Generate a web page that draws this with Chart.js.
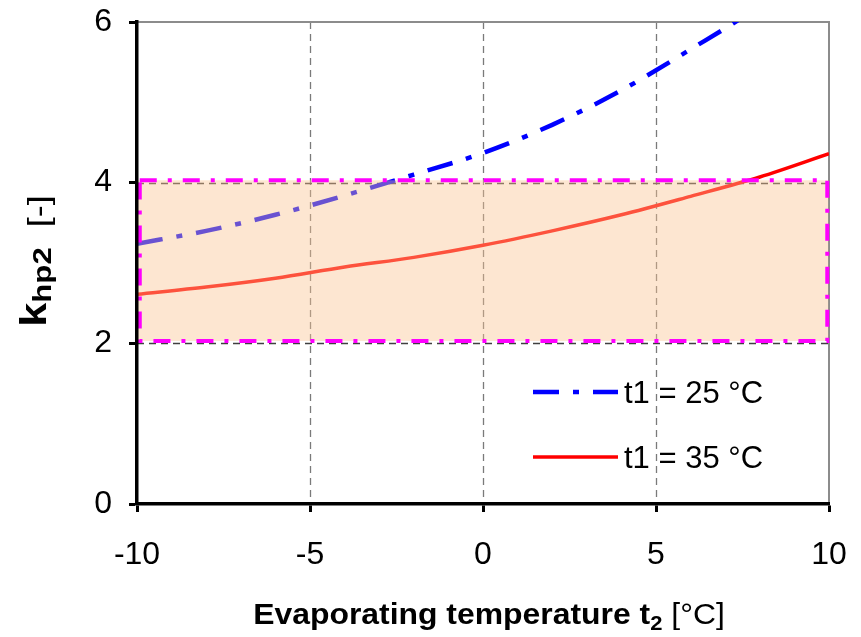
<!DOCTYPE html>
<html>
<head>
<meta charset="utf-8">
<script src="https://cdn.jsdelivr.net/npm/chart.js@4"></script>
<style>
  html, body { margin: 0; padding: 0; background: #fff; }
  #wrap { width: 861px; height: 637px; }
</style>
</head>
<body>
<div id="wrap"><canvas id="chart" width="861" height="637"></canvas></div>
<script>
// Evaporating temperature t2 [°C]
const temps = [-10, -8, -6, -4, -2, 0, 2, 4, 6, 8, 10];
// k_hp2 for t1 = 25 °C and t1 = 35 °C
const k25 = [3.24, 3.40, 3.60, 3.84, 4.10, 4.37, 4.72, 5.15, 5.66, 6.20, 6.85];
const k35 = [2.61, 2.70, 2.81, 2.95, 3.07, 3.22, 3.40, 3.60, 3.83, 4.07, 4.36];
const seriesNames = ["t1 = 25 °C", "t1 = 35 °C"];

// shaded range of k_hp2 (x from/to, y from/to)
const bandX = [-9.92, 9.95];
const bandY = [2.03, 4.03];

const xTicks = [-10, -5, 0, 5, 10];
const yTicks = [0, 2, 4, 6];

const FONT = "'Liberation Sans', Arial, sans-serif";
const blueDash = [26, 14, 6, 14];
const bandDash = [17, 11, 4, 11];

const toPoints = (ys) => temps.map((t, i) => ({ x: t, y: ys[i] }));

// draws a run of text parts (with subscripts), centred on 0, stretched by sx
function drawParts(ctx, parts, sx) {
  let total = 0;
  parts.forEach((p) => { ctx.font = p.f; p.w = ctx.measureText(p.t).width; total += p.w; });
  ctx.scale(sx, 1);
  let cx = -total / 2;
  parts.forEach((p) => {
    ctx.font = p.f;
    ctx.fillText(p.t, cx, p.dy);
    cx += p.w;
  });
}

// gridlines, frame and the shaded band
const framePlugin = {
  id: "frame",
  beforeDatasetsDraw(chart) {
    const { ctx, chartArea: a, scales: { x, y } } = chart;
    ctx.save();
    ctx.lineWidth = 1.3;
    ctx.setLineDash([7, 5]);
    ctx.strokeStyle = "#7a7a7a";
    xTicks.slice(1, -1).forEach((v) => {
      const px = Math.round(x.getPixelForValue(v)) + 0.5;
      ctx.beginPath();
      ctx.moveTo(px, a.top);
      ctx.lineTo(px, a.bottom);
      ctx.stroke();
    });
    ctx.strokeStyle = "#404040";
    yTicks.slice(1, -1).forEach((v) => {
      const py = Math.round(y.getPixelForValue(v)) + 0.5;
      ctx.beginPath();
      ctx.moveTo(a.left, py);
      ctx.lineTo(a.right, py);
      ctx.stroke();
    });
    // top and right frame
    ctx.setLineDash([]);
    ctx.strokeStyle = "#8c8c8c";
    ctx.lineWidth = 2;
    ctx.beginPath();
    ctx.moveTo(a.left, a.top);
    ctx.lineTo(a.right, a.top);
    ctx.lineTo(a.right, a.bottom);
    ctx.stroke();
    ctx.restore();
  },
  afterDatasetsDraw(chart) {
    const { ctx, scales: { x, y } } = chart;
    const x0 = x.getPixelForValue(bandX[0]);
    const x1 = x.getPixelForValue(bandX[1]);
    const y0 = y.getPixelForValue(bandY[1]);
    const y1 = y.getPixelForValue(bandY[0]);
    ctx.save();
    ctx.fillStyle = "rgba(250, 196, 145, 0.42)";
    ctx.fillRect(x0 - 2, y0, x1 - x0 + 3, y1 - y0);
    ctx.strokeStyle = "#ff00ff";
    ctx.lineWidth = 4;
    ctx.setLineDash(bandDash);
    ctx.strokeRect(x0, y0, x1 - x0, y1 - y0);
    ctx.restore();
  },
  afterDraw(chart) {
    const { ctx, chartArea: a } = chart;
    ctx.save();
    ctx.fillStyle = "#000";
    ctx.textBaseline = "alphabetic";
    ctx.textAlign = "left";

    // legend inside the plot
    const items = [
      { label: seriesNames[0], color: "#0000ff", width: 4.5, dash: blueDash, y: 392 },
      { label: seriesNames[1], color: "#ff0000", width: 3.5, dash: [], y: 457 },
    ];
    items.forEach((it) => {
      ctx.strokeStyle = it.color;
      ctx.lineWidth = it.width;
      ctx.setLineDash(it.dash);
      ctx.beginPath();
      ctx.moveTo(533, it.y);
      ctx.lineTo(618, it.y);
      ctx.stroke();
      ctx.setLineDash([]);
      ctx.font = "31px " + FONT;
      ctx.fillText(it.label, 624, it.y + 11);
    });

    // x axis title with subscript
    ctx.save();
    ctx.translate((a.left + a.right) / 2 + 6, 624);
    drawParts(ctx, [
      { t: "Evaporating temperature t", f: "bold 29px " + FONT, dy: 0 },
      { t: "2", f: "bold 20px " + FONT, dy: 6 },
      { t: " [°C]", f: "29px " + FONT, dy: 0 },
    ], 1.1);
    ctx.restore();

    // y axis title, rotated
    ctx.save();
    ctx.translate(46, 261);
    ctx.rotate(-Math.PI / 2);
    drawParts(ctx, [
      { t: "k", f: "bold 36px " + FONT, dy: 0 },
      { t: "hp2", f: "bold 26px " + FONT, dy: 5 },
      { t: "  [-]", f: "30px " + FONT, dy: 3 },
    ], 1.2);
    ctx.restore();
    ctx.restore();
  },
};

const axisCommon = {
  type: "linear",
  grid: {
    drawOnChartArea: false,
    drawTicks: true,
    tickLength: 8,
    tickWidth: 3,
    tickColor: "#000",
  },
  border: { display: true, color: "#000", width: 3.5, z: 1 },
};

new Chart(document.getElementById("chart"), {
  type: "line",
  data: {
    datasets: [
      {
        label: seriesNames[0],
        data: toPoints(k25),
        borderColor: "#0000ff",
        borderWidth: 4.5,
        borderDash: blueDash,
        pointRadius: 0,
        cubicInterpolationMode: "monotone",
        fill: false,
      },
      {
        label: seriesNames[1],
        data: toPoints(k35),
        borderColor: "#ff0000",
        borderWidth: 3.5,
        pointRadius: 0,
        cubicInterpolationMode: "monotone",
        fill: false,
      },
    ],
  },
  options: {
    responsive: false,
    animation: false,
    layout: { padding: { left: 0, top: 22, right: 32, bottom: 0 } },
    plugins: {
      legend: { display: false },
      tooltip: { enabled: false },
    },
    scales: {
      x: {
        ...axisCommon,
        min: -10,
        max: 10,
        afterBuildTicks: (s) => { s.ticks = xTicks.map((v) => ({ value: v })); },
        afterFit: (s) => { s.height = 133; s.paddingLeft = 0; s.paddingRight = 0; },
        ticks: {
          color: "#000",
          font: { family: FONT, size: 32 },
          padding: 24,
          maxRotation: 0,
        },
      },
      y: {
        ...axisCommon,
        min: 0,
        max: 6,
        afterBuildTicks: (s) => { s.ticks = yTicks.map((v) => ({ value: v })); },
        afterFit: (s) => { s.width = 137; s.paddingTop = 0; s.paddingBottom = 0; },
        ticks: {
          color: "#000",
          font: { family: FONT, size: 32 },
          padding: 17,
        },
      },
    },
  },
  plugins: [framePlugin],
});
</script>
</body>
</html>
